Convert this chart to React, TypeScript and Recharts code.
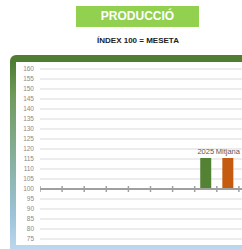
import React from 'react';
import { ComposedChart, Bar, Line, XAxis, YAxis, CartesianGrid, LabelList } from 'recharts';

const yTicks = [75, 80, 85, 90, 95, 100, 105, 110, 115, 120, 125, 130, 135, 140, 145, 150, 155, 160];
const boundaries = [0, 1, 2, 3, 4, 5, 6, 7, 8, 9, 10];
const barCategories = ['2025', 'Mitjana'];
const barPositions = [7.5, 8.5];
const barValues = [115.5, 115.5];
const barColors = ['#548235', '#c55a11'];
const BASE = 100;

type Row = { x: number; axis?: number; value?: number; label?: string; color?: string };

const rows: Row[] = [
    ...boundaries.map((b) => ({ x: b, axis: BASE })),
    ...barCategories.map((c, i) => ({ x: barPositions[i], value: barValues[i], label: c, color: barColors[i] })),
].sort((a, b) => a.x - b.x);

const TickDot = (props: any) => {
    const { cx, cy, payload } = props;
    if (payload.axis == null || cx == null) return null;
    return <line x1={cx} x2={cx} y1={cy - 3} y2={cy + 3} stroke="#a0a0a0" strokeWidth={1.5} />;
};

const BarShape = (props: any) => {
    const { x, y, width, height, payload } = props;
    if (payload.value == null) return null;
    return <rect x={x} y={y} width={width} height={height} fill={payload.color} />;
};

// category name drawn above its bar
const TopLabel = (props: any) => {
    const { x, y, width, value } = props;
    if (value == null) return null;
    return (
        <text x={x + width / 2} y={y - 4} textAnchor="middle" fontSize={7.5} fill="#595959">
            {value}
        </text>
    );
};

export default function App() {
    return (
        <div
            style={{
                position: 'fixed',
                left: 0,
                top: 0,
                width: 242,
                height: 249,
                overflow: 'hidden',
                background: '#fff',
                fontFamily: '"Liberation Sans", Arial, sans-serif',
            }}
        >
            <div
                style={{
                    position: 'absolute',
                    left: 76,
                    top: 6,
                    width: 123,
                    height: 21,
                    background: '#92d050',
                    color: '#fff',
                    fontWeight: 'bold',
                    fontSize: 12,
                    lineHeight: '21px',
                    textAlign: 'center',
                }}
            >
                PRODUCCIÓ
            </div>
            <div
                style={{
                    position: 'absolute',
                    left: 0,
                    top: 36,
                    width: 276,
                    fontSize: 8,
                    fontWeight: 'bold',
                    color: '#222',
                    textAlign: 'center',
                }}
            >
                ÍNDEX 100 = MESETA
            </div>
            <div
                style={{
                    position: 'absolute',
                    left: 10,
                    top: 55,
                    width: 300,
                    height: 194,
                    borderTopLeftRadius: 6,
                    background: 'linear-gradient(to bottom, #4f7d32 0px, #4f7d32 7px, #6f9a5a 40px, #9cc3d9 160px, #bdd7ee 194px)',
                }}
            />
            <div
                style={{
                    position: 'absolute',
                    left: 16,
                    top: 62,
                    width: 300,
                    height: 183,
                    background: '#fff',
                }}
            />
            <div style={{ position: 'absolute', left: 0, top: 0 }}>
                <ComposedChart width={270} height={249} data={rows} margin={{ top: 69, right: 9, bottom: 10, left: 0 }}>
                    <CartesianGrid vertical={false} stroke="#d9d9d9" strokeWidth={1} />
                    <XAxis type="number" dataKey="x" domain={[0, 10]} hide allowDataOverflow />
                    <YAxis
                        domain={[75, 160]}
                        ticks={yTicks}
                        interval={0}
                        width={40}
                        axisLine={false}
                        tickLine={false}
                        tickSize={4}
                        tickMargin={2}
                        tick={{ fontSize: 6.5, fill: '#8a8a8a' }}
                    />
                    <Line
                        dataKey="axis"
                        stroke="#a0a0a0"
                        strokeWidth={2}
                        connectNulls
                        dot={<TickDot />}
                        activeDot={false}
                        isAnimationActive={false}
                    />
                    <Bar
                        dataKey={(d: Row) => (d.value != null ? [BASE, d.value] : null)}
                        barSize={11}
                        shape={<BarShape />}
                        isAnimationActive={false}
                    >
                        <LabelList dataKey="label" content={<TopLabel />} />
                    </Bar>
                </ComposedChart>
            </div>
        </div>
    );
}
